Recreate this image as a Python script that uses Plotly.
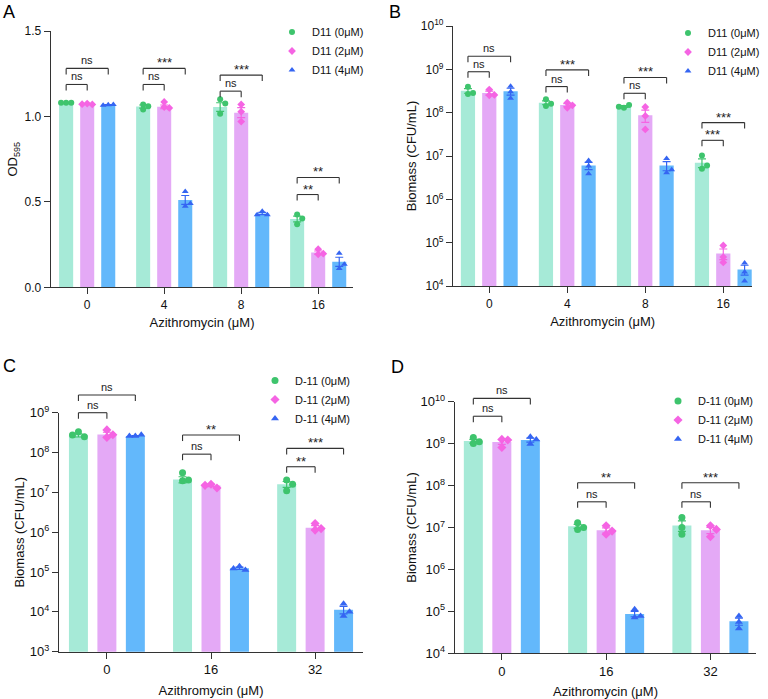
import numpy as np
import plotly.graph_objects as go

W, H = 768, 699
FONT = "Liberation Sans, Arial, Helvetica, sans-serif"

# ---------------- data ----------------
SERIES_AB = ["D11 (0μM)", "D11 (2μM)", "D11 (4μM)"]
SERIES_CD = ["D-11 (0μM)", "D-11 (2μM)", "D-11 (4μM)"]
CAT_AB = ["0", "4", "8", "16"]
CAT_CD = ["0", "16", "32"]

# Panel A : OD595
A_MEAN_0 = [1.078, 1.058, 1.055, 0.400]
A_MEAN_2 = [1.072, 1.056, 1.022, 0.203]
A_MEAN_4 = [1.068, 0.511, 0.432, 0.149]
A_PTS_0 = [[1.08, 1.08, 1.08], [1.07, 1.04, 1.06], [1.10, 1.015, 1.075], [0.426, 0.369, 0.402]]
A_PTS_2 = [[1.075, 1.07, 1.072], [1.085, 1.055, 1.05], [1.07, 1.028, 0.97], [0.223, 0.193, 0.197]]
A_PTS_4 = [[1.068, 1.07, 1.066], [0.56, 0.475, 0.49], [0.445, 0.425, 0.425], [0.20, 0.11, 0.135]]
A_SIG = [(0, 0, 1, "ns", 1.187), (0, 0, 2, "ns", 1.281), (1, 0, 1, "ns", 1.187), (1, 0, 2, "***", 1.281),
         (2, 0, 1, "ns", 1.148), (2, 0, 2, "***", 1.242), (3, 0, 1, "**", 0.543), (3, 0, 2, "**", 0.643)]

# Panel B : Biomass (CFU/mL)
B_MEAN_0 = [3.2e8, 1.7e8, 1.39e8, 7.0e6]
B_MEAN_2 = [2.85e8, 1.5e8, 8.7e7, 5.6e4]
B_MEAN_4 = [3.1e8, 6.0e6, 6.0e6, 2.4e4]
B_PTS_0 = [[3.96e8, 2.71e8, 2.86e8], [2.03e8, 1.43e8, 1.61e8], [1.3e8, 1.5e8, 1.37e8], [1.03e7, 5.1e6, 6.0e6]]
B_PTS_2 = [[3.42e8, 2.51e8, 2.57e8], [1.70e8, 1.30e8, 1.48e8], [1.35e8, 8.4e7, 4.1e7], [8.6e4, 3.5e4, 4.65e4]]
B_PTS_4 = [[4.08e8, 3.02e8, 2.14e8], [7.9e6, 5.9e6, 3.9e6], [8.7e6, 4.1e6, 4.8e6], [3.4e4, 2.1e4, 1.3e4]]
B_SIG = [(0, 0, 1, "ns", 8.8e8), (0, 0, 2, "ns", 2.0e9), (1, 0, 1, "ns", 4.0e8), (1, 0, 2, "***", 9.7e8),
         (2, 0, 1, "ns", 2.8e8), (2, 0, 2, "***", 6.5e8), (3, 0, 1, "***", 2.3e7), (3, 0, 2, "***", 5.9e7)]

# Panel C : Biomass (CFU/mL)
C_MEAN_0 = [2.7e8, 2.1e7, 1.6e7]
C_MEAN_2 = [2.85e8, 1.48e7, 1.3e6]
C_MEAN_4 = [2.6e8, 1.25e5, 1.13e4]
C_PTS_0 = [[3.33e8, 2.5e8, 2.75e8], [3.1e7, 1.96e7, 2.04e7], [2.04e7, 1.1e7, 1.6e7]]
C_PTS_2 = [[3.7e8, 2.4e8, 2.8e8], [1.6e7, 1.29e7, 1.5e7], [1.66e6, 1.13e6, 1.23e6]]
C_PTS_4 = [[2.6e8, 2.8e8, 2.6e8], [1.4e5, 1.12e5, 1.23e5], [1.6e4, 7.9e3, 1.0e4]]
C_SIG = [(0, 0, 1, "ns", 1.0e9), (0, 0, 2, "ns", 2.77e9), (1, 0, 1, "ns", 9.1e7), (1, 0, 2, "**", 2.75e8),
         (2, 0, 1, "**", 4.4e7), (2, 0, 2, "***", 1.27e8)]

# Panel D : Biomass (CFU/mL)
D_MEAN_0 = [1.15e9, 1.07e7, 1.12e7]
D_MEAN_2 = [1.1e9, 8.6e6, 8.6e6]
D_MEAN_4 = [1.22e9, 8.7e4, 5.8e4]
D_PTS_0 = [[1.41e9, 1.01e9, 1.11e9], [1.3e7, 9.0e6, 1.0e7], [1.74e7, 1.0e7, 6.9e6]]
D_PTS_2 = [[1.26e9, 8.1e8, 1.22e9], [1.1e7, 6.9e6, 8.2e6], [1.1e7, 6.0e6, 9.0e6]]
D_PTS_4 = [[1.46e9, 9.8e8, 1.26e9], [1.12e5, 7.1e4, 7.8e4], [7.8e4, 3.9e4, 5.6e4]]
D_SIG = [(0, 0, 1, "ns", 4.5e9), (0, 0, 2, "ns", 1.2e10), (1, 0, 1, "ns", 4.1e7), (1, 0, 2, "**", 1.17e8),
         (2, 0, 1, "ns", 4.1e7), (2, 0, 2, "***", 1.17e8)]

# ---------------- style ----------------
BAR_COLORS = ["#a6ead7", "#e4a9f6", "#63b8fb"]
PT_COLORS = ["#3ec46d", "#f564e3", "#3565f2"]
SYMBOLS = ["circle", "diamond", "triangle-up"]
AXIS_COLOR = "#333333"
BARGAP = 0.18
BARGROUPGAP = 0.333
SLOT = (1 - BARGAP) / 3
DROP_PX = 6


def log_ticks(lo, hi):
    vals = [10.0 ** k for k in range(lo, hi + 1)]
    txt = ["10<sup>%d</sup>" % k for k in range(lo, hi + 1)]
    return vals, txt


panels = [
    dict(letter="A", n="", xpx=(50.7, 353.3), ypx=(31.0, 287.3), xr=(-0.474, 3.456), ytype="linear",
         yr=(0, 1.5), cats=CAT_AB, series=SERIES_AB,
         means=[A_MEAN_0, A_MEAN_2, A_MEAN_4], pts=[A_PTS_0, A_PTS_2, A_PTS_4], sig=A_SIG,
         ytv=[0, 0.5, 1.0, 1.5], ytt=["0.0", "0.5", "1.0", "1.5"], ytitle="OD<sub>595</sub>",
         msize=6, tickfont=12, legpx=(272, 17.5), ystand=3, xstand=7, letterpx=(9, 12)),
    dict(letter="B", n="2", xpx=(453.0, 752.3), ypx=(26.0, 286.0), xr=(-0.465, 3.372), ytype="log",
         yr=(4, 10), cats=CAT_AB, series=SERIES_AB,
         means=[B_MEAN_0, B_MEAN_2, B_MEAN_4], pts=[B_PTS_0, B_PTS_2, B_PTS_4], sig=B_SIG,
         ytv=log_ticks(4, 10)[0], ytt=log_ticks(4, 10)[1], ytitle="Biomass (CFU/mL)",
         msize=6, tickfont=12, legpx=(668, 18.5), ystand=1, xstand=7, letterpx=(395, 12)),
    dict(letter="C", n="3", xpx=(59.0, 363.0), ypx=(412.7, 651.7), xr=(-0.46, 2.46), ytype="log",
         yr=(3, 9), cats=CAT_CD, series=SERIES_CD,
         means=[C_MEAN_0, C_MEAN_2, C_MEAN_4], pts=[C_PTS_0, C_PTS_2, C_PTS_4], sig=C_SIG,
         ytv=log_ticks(3, 9)[0], ytt=log_ticks(3, 9)[1], ytitle="Biomass (CFU/mL)",
         msize=7, tickfont=13, legpx=(255, 366), ystand=2, xstand=9, letterpx=(9, 366)),
    dict(letter="D", n="4", xpx=(454.7, 756.3), ypx=(401.7, 653.3), xr=(-0.452, 2.44), ytype="log",
         yr=(4, 10), cats=CAT_CD, series=SERIES_CD,
         means=[D_MEAN_0, D_MEAN_2, D_MEAN_4], pts=[D_PTS_0, D_PTS_2, D_PTS_4], sig=D_SIG,
         ytv=log_ticks(4, 10)[0], ytt=log_ticks(4, 10)[1], ytitle="Biomass (CFU/mL)",
         msize=7, tickfont=13, legpx=(658, 386.5), ystand=0, xstand=8, letterpx=(397, 367)),
]


def y_to_px(p, v):
    """Distance in px from the bottom of the plot area."""
    h = p["ypx"][1] - p["ypx"][0]
    r0, r1 = p["yr"]
    t = np.log10(v) if p["ytype"] == "log" else v
    return (t - r0) / (r1 - r0) * h


def swarm(p, values, d):
    """Simple beeswarm: horizontal pixel offsets so that markers do not overlap."""
    ys = [y_to_px(p, v) for v in values]
    placed = []
    offs = []
    for y in ys:
        for c in [0, d, -d, 2 * d, -2 * d]:
            if all(np.hypot(c - ox, y - oy) >= d * 0.95 for ox, oy in placed):
                break
        placed.append((c, y))
        offs.append(c)
    return offs


fig = go.Figure()
layout = dict(width=W, height=H, margin=dict(l=0, r=0, t=0, b=0), paper_bgcolor="white",
              plot_bgcolor="white", barmode="group", bargap=BARGAP, bargroupgap=BARGROUPGAP,
              font=dict(family=FONT, color="#111111"), showlegend=True)
shapes, annotations = [], []

for p in panels:
    n = p["n"]
    xa, ya = "x" + n, "y" + n
    xspan = p["xr"][1] - p["xr"][0]
    xscale = (p["xpx"][1] - p["xpx"][0]) / xspan  # px per x unit
    hpx = p["ypx"][1] - p["ypx"][0]
    groups = list(range(len(p["cats"])))
    legname = "legend" + n

    for s in range(3):
        pts = np.array(p["pts"][s], dtype=float)
        sem = pts.std(axis=1, ddof=1) / np.sqrt(pts.shape[1])
        fig.add_trace(go.Bar(
            x=groups, y=p["means"][s], xaxis=xa, yaxis=ya, name=p["series"][s], showlegend=False,
            marker=dict(color=BAR_COLORS[s], line=dict(width=0)),
            error_y=dict(type="data", array=list(sem), color=PT_COLORS[s], thickness=1.2, width=4),
        ))
    for s in range(3):
        xs, ys = [], []
        for g in groups:
            vals = p["pts"][s][g]
            offs = swarm(p, vals, p["msize"] * 0.85)
            for v, o in zip(vals, offs):
                xs.append(g + (s - 1) * SLOT + o / xscale)
                ys.append(v)
        fig.add_trace(go.Scatter(
            x=xs, y=ys, xaxis=xa, yaxis=ya, mode="markers", name=p["series"][s], legend=legname,
            marker=dict(symbol=SYMBOLS[s], size=p["msize"], color=PT_COLORS[s], line=dict(width=0)),
            cliponaxis=False,
        ))

    # axes
    xdom = [p["xpx"][0] / W, p["xpx"][1] / W]
    ydom = [1 - p["ypx"][1] / H, 1 - p["ypx"][0] / H]
    layout["xaxis" + n] = dict(
        domain=xdom, anchor=ya, range=list(p["xr"]), tickmode="array", tickvals=groups,
        ticktext=p["cats"], ticks="outside", ticklen=6, tickwidth=1.2, tickcolor=AXIS_COLOR,
        showline=True, linecolor=AXIS_COLOR, linewidth=1.2, showgrid=False, zeroline=False,
        tickfont=dict(size=p["tickfont"], family=FONT, color="#111111"), automargin=False,
        title=dict(text="Azithromycin (μM)", font=dict(size=13, family=FONT), standoff=p["xstand"]),
    )
    yax = dict(
        domain=ydom, anchor=xa, type=p["ytype"], range=list(p["yr"]), tickmode="array",
        tickvals=p["ytv"], ticktext=p["ytt"], ticks="outside", ticklen=6, tickwidth=1.2,
        tickcolor=AXIS_COLOR, showline=True, linecolor=AXIS_COLOR, linewidth=1.2, showgrid=False,
        zeroline=False, tickfont=dict(size=p["tickfont"], family=FONT, color="#111111"),
        automargin=False,
        title=dict(text=p["ytitle"], font=dict(size=13, family=FONT), standoff=p["ystand"]),
    )
    layout["yaxis" + n] = yax

    # legend
    layout[legname] = dict(x=p["legpx"][0] / W, y=1 - p["legpx"][1] / H, xanchor="left", yanchor="top",
                           bgcolor="rgba(0,0,0,0)", font=dict(size=11, family=FONT, color="#111111"),
                           itemwidth=30, tracegroupgap=0)

    # significance brackets
    xref, yref = xa + " domain", ya + " domain"
    drop = DROP_PX / hpx
    for g, s0, s1, lab, lvl in p["sig"]:
        x0 = (g + (s0 - 1) * SLOT - p["xr"][0]) / xspan
        x1 = (g + (s1 - 1) * SLOT - p["xr"][0]) / xspan
        yl = y_to_px(p, lvl) / hpx
        line = dict(color="#333333", width=1.1)
        for (ax0, ay0, ax1, ay1) in [(x0, yl - drop, x0, yl), (x0, yl, x1, yl), (x1, yl, x1, yl - drop)]:
            shapes.append(dict(type="line", xref=xref, yref=yref, x0=ax0, y0=ay0, x1=ax1, y1=ay1,
                               line=line, layer="above"))
        is_ns = lab == "ns"
        annotations.append(dict(xref=xref, yref=yref, x=(x0 + x1) / 2, y=yl, text=lab, showarrow=False,
                                xanchor="center", yanchor="bottom", yshift=0 if is_ns else -4,
                                font=dict(size=11 if is_ns else 13, family=FONT, color="#222222")))

    # panel letter
    annotations.append(dict(xref="paper", yref="paper", x=p["letterpx"][0] / W, y=1 - p["letterpx"][1] / H,
                            text=p["letter"], showarrow=False, xanchor="center", yanchor="middle",
                            font=dict(size=18, family=FONT, color="#000000")))

layout["shapes"] = shapes
layout["annotations"] = annotations
fig.update_layout(**layout)
fig.write_html("out.html", config={"displayModeBar": False},
               post_script="document.body.style.margin='0';document.body.style.padding='0';")
